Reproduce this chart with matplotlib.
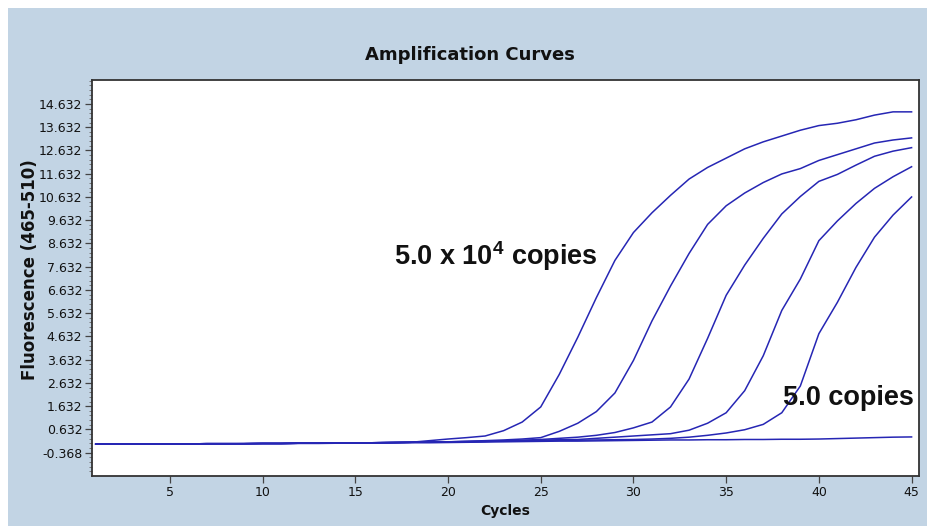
import matplotlib
matplotlib.use("Agg")
import matplotlib.pyplot as plt
from matplotlib.patches import Rectangle
from matplotlib.ticker import FixedLocator, NullLocator

# Fluorescence readings per cycle for each dilution (1 .. 45 cycles)
cycles = list(range(1, 46))

dil_5e4 = [0.00, 0.00, 0.00, 0.00, 0.01, 0.01, 0.02, 0.02, 0.02, 0.03,
           0.03, 0.04, 0.04, 0.05, 0.05, 0.06, 0.07, 0.08, 0.15, 0.22,
           0.28, 0.35, 0.58, 0.95, 1.60, 3.00, 4.60, 6.30, 7.90, 9.10,
           9.95, 10.70, 11.40, 11.90, 12.30, 12.70, 13.00, 13.25, 13.50, 13.70,
           13.80, 13.95, 14.15, 14.29, 14.29]

dil_5e3 = [0.00, 0.00, 0.00, 0.00, 0.01, 0.01, 0.02, 0.02, 0.02, 0.03,
           0.03, 0.04, 0.04, 0.05, 0.05, 0.06, 0.07, 0.08, 0.09, 0.10,
           0.12, 0.15, 0.18, 0.22, 0.28, 0.55, 0.90, 1.40, 2.20, 3.60,
           5.30, 6.80, 8.20, 9.45, 10.25, 10.80, 11.25, 11.62, 11.85, 12.20,
           12.45, 12.70, 12.95, 13.08, 13.17]

dil_5e2 = [0.00, 0.00, 0.00, 0.00, 0.01, 0.01, 0.02, 0.02, 0.02, 0.03,
           0.03, 0.04, 0.04, 0.05, 0.05, 0.06, 0.07, 0.08, 0.09, 0.10,
           0.11, 0.12, 0.14, 0.17, 0.20, 0.25, 0.30, 0.38, 0.50, 0.70,
           0.95, 1.60, 2.80, 4.55, 6.40, 7.70, 8.85, 9.90, 10.65, 11.30,
           11.60, 12.00, 12.38, 12.60, 12.75]

dil_5e1 = [0.00, 0.00, 0.00, 0.00, 0.01, 0.01, 0.02, 0.02, 0.02, 0.03,
           0.03, 0.04, 0.04, 0.05, 0.05, 0.06, 0.07, 0.08, 0.09, 0.10,
           0.11, 0.12, 0.13, 0.15, 0.17, 0.19, 0.20, 0.25, 0.30, 0.35,
           0.40, 0.45, 0.60, 0.90, 1.35, 2.30, 3.80, 5.75, 7.10, 8.75,
           9.60, 10.35, 11.00, 11.50, 11.93]

dil_5e0 = [0.00, 0.00, 0.00, 0.00, 0.01, 0.01, 0.02, 0.02, 0.02, 0.03,
           0.03, 0.04, 0.04, 0.05, 0.05, 0.06, 0.07, 0.08, 0.09, 0.10,
           0.11, 0.12, 0.13, 0.14, 0.15, 0.16, 0.17, 0.18, 0.19, 0.20,
           0.22, 0.25, 0.30, 0.38, 0.48, 0.62, 0.85, 1.35, 2.50, 4.75,
           6.10, 7.60, 8.90, 9.85, 10.63]

ntc = [0.00, 0.00, 0.00, 0.00, 0.00, 0.01, 0.01, 0.01, 0.02, 0.02,
       0.02, 0.03, 0.03, 0.04, 0.04, 0.05, 0.05, 0.06, 0.06, 0.07,
       0.08, 0.09, 0.10, 0.11, 0.12, 0.13, 0.13, 0.14, 0.15, 0.16,
       0.17, 0.18, 0.18, 0.19, 0.19, 0.20, 0.20, 0.21, 0.21, 0.22,
       0.24, 0.26, 0.28, 0.30, 0.31]

series = [dil_5e4, dil_5e3, dil_5e2, dil_5e1, dil_5e0, ntc]

y_ticks = [-0.368, 0.632, 1.632, 2.632, 3.632, 4.632, 5.632, 6.632,
           7.632, 8.632, 9.632, 10.632, 11.632, 12.632, 13.632, 14.632]
y_tick_labels = ["-0.368", "0.632", "1.632", "2.632", "3.632", "4.632",
                 "5.632", "6.632", "7.632", "8.632", "9.632", "10.632",
                 "11.632", "12.632", "13.632", "14.632"]
x_ticks = [5, 10, 15, 20, 25, 30, 35, 40, 45]

plt.rcParams["mathtext.fontset"] = "custom"
plt.rcParams["mathtext.rm"] = "Liberation Sans"
plt.rcParams["mathtext.bf"] = "Liberation Sans:bold"

W, H = 927, 526
fig = plt.figure(figsize=(W / 100, H / 100), dpi=100)
fig.patch.set_facecolor("white")

# light blue panel behind the chart
panel = Rectangle((8 / W, 0), 1, (H - 8) / H, transform=fig.transFigure,
                  facecolor="#c2d4e4", edgecolor="none", zorder=-10)
fig.add_artist(panel)

ax = fig.add_axes([92 / W, 1 - 476 / H, (919 - 92) / W, (476 - 80) / H])
ax.set_zorder(1)
ax.set_facecolor("white")

line_color = "#2626b4"
for s in series:
    ax.plot(cycles, s, color=line_color, lw=1.1, solid_joinstyle="miter")

ax.set_xlim(0.8, 45.4)
ax.set_ylim(-1.37, 15.66)

ax.set_xticks(x_ticks)
ax.set_xticklabels([str(t) for t in x_ticks])
ax.xaxis.set_minor_locator(NullLocator())
ax.set_yticks(y_ticks)
ax.set_yticklabels(y_tick_labels)
minor = [y_ticks[0] - 0.8 + 0.2 * i for i in range(0, 85)]
ax.yaxis.set_minor_locator(FixedLocator(minor))

ax.tick_params(axis="both", which="major", direction="out", length=5,
               width=0.9, color="#444444", labelsize=9, labelcolor="#111111",
               pad=2)
ax.tick_params(axis="y", which="minor", direction="out", length=2.5,
               width=0.7, color="#777777")

for side in ["top", "left", "bottom", "right"]:
    ax.spines[side].set_color("#333333")
    ax.spines[side].set_linewidth(1.3)

fig.text(470 / W, 1 - 55 / H, "Amplification Curves", ha="center", va="center",
         fontsize=13, fontweight="bold", color="#111111")
ax.set_xlabel("Cycles", fontsize=10, fontweight="bold", color="#111111", labelpad=4)
fig.text(30 / W, 1 - 270 / H, "Fluorescence (465-510)", rotation=90,
         ha="center", va="center", fontsize=12, fontweight="bold", color="#111111")

ax.text(17.1, 8.1, r"5.0 x 10$^{\mathbf{4}}$ copies", fontsize=19.5,
        family="Liberation Sans", fontweight="bold", color="#111111",
        ha="left", va="center")
ax.text(38.05, 2.0, "5.0 copies", fontsize=19.5, family="Liberation Sans",
        fontweight="bold", color="#111111", ha="left", va="center")

fig.savefig("out.png", dpi=100, facecolor=fig.get_facecolor())
